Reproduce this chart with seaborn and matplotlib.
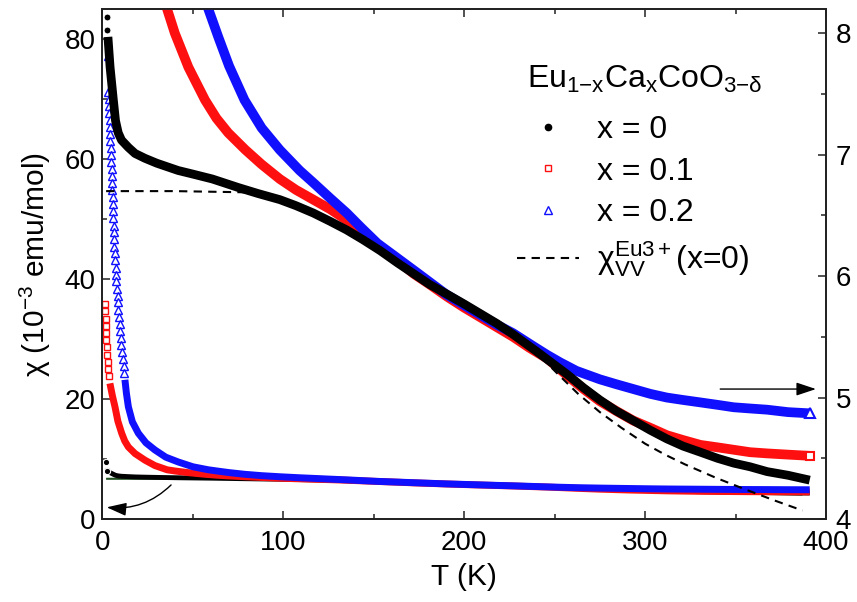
import matplotlib
matplotlib.use("Agg")
import matplotlib.pyplot as plt
import seaborn as sns
from matplotlib.lines import Line2D
from matplotlib.ticker import MultipleLocator

sns.set_style("ticks")
plt.rcParams["font.family"] = ["Liberation Sans", "DejaVu Sans"]
plt.rcParams["mathtext.fontset"] = "custom"
plt.rcParams["mathtext.rm"] = "Liberation Sans"
plt.rcParams["mathtext.it"] = "Liberation Sans:italic"
plt.rcParams["mathtext.bf"] = "Liberation Sans:bold"
for k in ["text.color", "axes.labelcolor", "xtick.color", "ytick.color"]:
    plt.rcParams[k] = "black"

# chi in 10^-3 emu/mol vs T in K
# (same data drawn twice: full scale on the left axis, zoomed on the right axis)

# x = 0  (isolated low-T points, then the dense curve)
t_x0_pts = [1.8, 2.4, 2.7]
chi_x0_pts = [9.5, 8.13, 8.03]
t_x0 = [3.0, 4.2, 6.0, 7.2, 8.7, 10.5, 14.3, 18, 23.5, 30, 41.8, 50, 60.7, 75, 86, 98,
        107, 116.5, 126, 135, 144, 153.5, 163, 172, 181, 190.6, 200, 209, 218, 227, 240,
        257, 266, 275, 284, 293.5, 303, 312, 321, 330.6, 340, 349, 358, 367.5, 379, 391]
chi_x0 = [7.97, 7.72, 7.45, 7.28, 7.18, 7.12, 7.06, 7.01, 6.97, 6.93, 6.87, 6.84, 6.80, 6.73,
          6.68, 6.63, 6.58, 6.52, 6.45, 6.38, 6.30, 6.21, 6.11, 6.02, 5.93, 5.85, 5.77,
          5.69, 5.61, 5.52, 5.38, 5.19, 5.08, 4.98, 4.89, 4.81, 4.73, 4.66, 4.60, 4.55,
          4.50, 4.46, 4.43, 4.39, 4.36, 4.32]

# x = 0.1
t_x1_pts = [1.5, 1.6, 1.7, 1.8, 2.0, 2.2, 2.4, 2.6, 2.9, 3.2, 3.6]
chi_x1_pts = [35.9, 34.6, 33.4, 32.2, 31.0, 29.8, 28.6, 27.4, 26.2, 25.0, 23.8]
t_x1 = [4.1, 5.5, 6.9, 8.5, 10.6, 12.3, 14.3, 18, 23.5, 29, 35.7, 40, 47.5, 56.7, 63, 69.5,
        79, 88, 98, 107, 116.5, 126, 135, 144, 153.5, 163, 172, 181, 190.6, 200, 209, 218,
        227, 236, 246, 257, 266, 275, 284, 293.5, 303, 312, 321, 330.6, 340, 349, 358,
        367.5, 379, 391]
chi_x1 = [22.6, 20.5, 18.7, 16.3, 14.3, 13.0, 12.0, 10.9, 9.8, 8.9, 8.20, 8.00, 7.72, 7.45,
          7.30, 7.18, 7.04, 6.92, 6.80, 6.71, 6.63, 6.55, 6.46, 6.35, 6.24, 6.13, 6.02,
          5.93, 5.83, 5.74, 5.66, 5.58, 5.50, 5.41, 5.32, 5.18, 5.07, 4.97, 4.89, 4.81,
          4.75, 4.69, 4.65, 4.61, 4.59, 4.57, 4.55, 4.54, 4.53, 4.52]

# x = 0.2
t_x2_pts = [3.1, 3.2, 3.4, 3.5, 3.7, 3.9, 4.0, 4.2, 4.3, 4.5, 4.7, 4.8, 5.0, 5.2, 5.3, 5.5,
            5.6, 5.7, 5.9, 6.0, 6.2, 6.3, 6.5, 6.6, 6.8, 6.9, 7.2, 7.5, 7.7, 8.0, 8.3, 8.5,
            8.8, 9.1, 9.5, 9.8, 10.1, 10.5, 10.9, 11.2, 11.7, 12.1]
chi_x2_pts = [77.2, 71.2, 70.0, 68.9, 67.7, 66.5, 65.3, 64.2, 63.0, 61.8, 60.7, 59.5, 58.3, 57.1,
              56.0, 54.8, 53.6, 52.5, 51.3, 50.1, 48.9, 47.8, 46.6, 45.4, 44.3, 43.1, 41.9,
              40.7, 39.6, 38.4, 37.2, 36.1, 34.9, 33.7, 32.5, 31.4, 30.2, 29.0, 27.9, 26.7,
              25.5, 24.3]
t_x2 = [12.4, 13.2, 14.3, 16.5, 19.8, 24, 29, 35, 41.9, 50, 58.5, 64, 70, 78.5, 88, 98, 109,
        116.5, 126, 135, 143, 152, 162, 172, 181, 190, 200, 209, 218, 227, 238.5, 246, 253,
        262, 275, 284, 293.5, 303, 312, 321, 330.6, 340, 349, 358, 367.5, 379, 391]
chi_x2 = [23.2, 21.0, 18.7, 16.2, 14.3, 12.7, 11.5, 10.3, 9.5, 8.7, 8.20, 7.97, 7.73, 7.45,
          7.22, 7.04, 6.87, 6.77, 6.64, 6.52, 6.40, 6.27, 6.16, 6.05, 5.95, 5.85, 5.76, 5.68,
          5.60, 5.53, 5.42, 5.35, 5.29, 5.22, 5.15, 5.11, 5.07, 5.03, 5.00, 4.98, 4.96, 4.94,
          4.92, 4.91, 4.90, 4.88, 4.87]

# Eu3+ Van Vleck term for x = 0
t_vv = [2, 40, 80, 86, 98, 116.5, 135, 153.5, 172, 190.6, 209, 227, 240, 252, 263, 275,
        287, 300, 311, 322, 339, 356, 372, 387]
chi_vv = [6.70, 6.70, 6.69, 6.68, 6.63, 6.52, 6.38, 6.21, 6.02, 5.85, 5.69, 5.52, 5.37, 5.19,
          5.03, 4.88, 4.75, 4.62, 4.53, 4.45, 4.34, 4.24, 4.15, 4.07]

RED = "#ff1010"
BLUE = "#1010ff"

fig = plt.figure(figsize=(8.57, 6.02), dpi=100)
ax = fig.add_axes([0.1196, 0.1379, 0.8442, 0.8472])
ax2 = ax.twinx()

line = dict(estimator=None, sort=False, solid_capstyle="butt", solid_joinstyle="round")
pts = dict(estimator=None, sort=False, ls="")

# left axis: full scale
sns.lineplot(x=t_vv, y=chi_vv, ax=ax, color="#1f5020", lw=1.5, zorder=1, **line)
sns.lineplot(x=t_x0, y=chi_x0, ax=ax, color="black", lw=3.5, zorder=2, **line)
sns.lineplot(x=t_x1, y=chi_x1, ax=ax, color=RED, lw=5, zorder=3, **line)
sns.lineplot(x=t_x2, y=chi_x2, ax=ax, color=BLUE, lw=5, zorder=4, **line)
sns.lineplot(x=t_x0_pts, y=chi_x0_pts, ax=ax, color="black", marker="o", ms=4.5,
             zorder=2, **pts)
sns.lineplot(x=t_x1_pts, y=chi_x1_pts, ax=ax, color=RED, marker="s", ms=5,
             mfc="white", mec=RED, mew=1, zorder=3, **pts)
sns.lineplot(x=t_x2_pts, y=chi_x2_pts, ax=ax, color=BLUE, marker="^", ms=6,
             mfc="white", mec=BLUE, mew=1, zorder=4, **pts)

# right axis: zoomed
sns.lineplot(x=t_x1, y=chi_x1, ax=ax2, color=RED, lw=7, zorder=2, **line)
sns.lineplot(x=t_x2, y=chi_x2, ax=ax2, color=BLUE, lw=7, zorder=2.2, **line)
sns.lineplot(x=t_vv, y=chi_vv, ax=ax2, color="black", lw=1.5, ls=(0, (4, 3)), zorder=2.5,
             estimator=None, sort=False)
sns.lineplot(x=t_x0, y=chi_x0, ax=ax2, color="black", lw=6.3, zorder=3, **line)
sns.lineplot(x=t_x0_pts, y=chi_x0_pts, ax=ax2, color="black", marker="o", ms=5,
             zorder=3, **pts)
# last measured points
sns.lineplot(x=t_x1[-1:], y=chi_x1[-1:], ax=ax2, color=RED, marker="s", ms=6,
             mfc="white", mec=RED, mew=1.5, zorder=4, **pts)
sns.lineplot(x=t_x2[-1:], y=chi_x2[-1:], ax=ax2, color=BLUE, marker="^", ms=7,
             mfc="white", mec=BLUE, mew=1.5, zorder=4, **pts)

ax.set_xlim(0, 400)
ax.set_ylim(0, 85)
ax2.set_ylim(4, 8.2)

ax.xaxis.set_major_locator(MultipleLocator(100))
ax.xaxis.set_minor_locator(MultipleLocator(50))
ax.yaxis.set_major_locator(MultipleLocator(20))
ax.yaxis.set_minor_locator(MultipleLocator(10))
ax2.yaxis.set_major_locator(MultipleLocator(1))
ax2.yaxis.set_minor_locator(MultipleLocator(0.5))

ax.tick_params(axis="x", which="both", direction="in", top=True, labelsize=20, pad=8)
ax.tick_params(axis="y", which="both", direction="in", right=False, labelsize=20, pad=5)
ax2.tick_params(axis="y", which="both", direction="in", labelsize=20, pad=7)
for a in (ax, ax2):
    a.tick_params(which="major", length=6, width=1.1, color="#222222")
    a.tick_params(which="minor", length=3.5, width=1.1, color="#222222")
    for s in a.spines.values():
        s.set_linewidth(1.3)
        s.set_color("#222222")

ax.set_xlabel("T (K)", fontsize=21.5, labelpad=5)
ax.set_ylabel("χ (10$^{-3}$ emu/mol)", fontsize=21.5, labelpad=8)
ax2.set_ylabel("")

# arrows pointing to the axis each set of curves belongs to
ax2.annotate("", xy=(396, 5.07), xytext=(340, 5.07),
             arrowprops=dict(arrowstyle="-|>,head_length=0.6,head_width=0.2",
                             color="black", lw=1, mutation_scale=20))
ax.annotate("", xy=(0.8, 2.0), xytext=(39, 6.0),
            arrowprops=dict(arrowstyle="-|>,head_length=0.6,head_width=0.2",
                            color="black", lw=1, mutation_scale=20,
                            connectionstyle="arc3,rad=-0.25"))

ax2.text(0.587, 0.845,
         r"Eu$_{\mathregular{1{-}x}}$Ca$_{\mathregular{x}}$CoO$_{\mathregular{3{-}\delta}}$",
         transform=ax2.transAxes, fontsize=23, va="baseline", ha="left")

handles = [
    Line2D([], [], ls="none", marker="o", ms=4.5, color="black"),
    Line2D([], [], ls="none", marker="s", ms=5, mfc="none", mec=RED, mew=1),
    Line2D([], [], ls="none", marker="^", ms=5.5, mfc="none", mec=BLUE, mew=1),
    Line2D([], [], ls=(0, (4, 3)), lw=1.5, color="black"),
]
labels = ["x = 0", "x = 0.1", "x = 0.2", r"$\mathrm{\chi}_{\mathrm{VV}}^{\mathrm{Eu3+}}$(x=0)"]
ax2.legend(handles, labels, loc="upper left", bbox_to_anchor=(0.573, 0.792), frameon=False,
           fontsize=23, borderpad=0, borderaxespad=0, handlelength=1.95,
           handletextpad=0.55, labelspacing=0.36)

fig.savefig("out.png", dpi=100)
